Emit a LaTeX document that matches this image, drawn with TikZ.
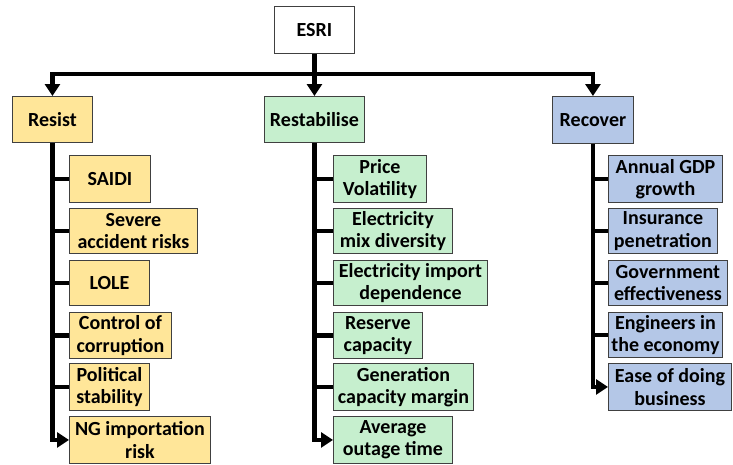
\documentclass[tikz,border=0pt]{standalone}
\usepackage{fontspec}
\setmainfont{Carlito}
\usetikzlibrary{arrows.meta}
\definecolor{yel}{HTML}{FFE699}
\definecolor{grn}{HTML}{C6EFCE}
\definecolor{blu}{HTML}{B4C7E7}
\definecolor{edge}{HTML}{404040}
\begin{document}
\begin{tikzpicture}[x=1pt,y=-1pt,
  box/.style={draw=edge, line width=0.9pt, anchor=north west, align=center, inner sep=0pt,
    font=\fontsize{20}{22.5}\selectfont\bfseries},
  wh/.style 2 args={minimum width=#1pt, minimum height=#2pt},
  conn/.style={line width=4.5pt, line join=miter, draw=black},
  tip/.style={-{Triangle[width=15pt,length=12pt]}}
]
\useasboundingbox (0,0) rectangle (733,464);
% top level
\node[box, fill=white, wh={80}{47}] (esri) at (274,6) {ESRI};
\node[box, fill=yel, wh={80}{46}] (resist) at (12,96) {Resist};
\node[box, fill=grn, wh={100}{46}] (restab) at (264,96) {Restabilise};
\node[box, fill=blu, wh={81}{47}] (recover) at (552,96) {Recover};
% left column
\node[box, fill=yel, wh={81}{47}] (saidi) at (69,155) {SAIDI};
\node[box, fill=yel, wh={128}{45}] (severe) at (69,208) {Severe\\accident risks};
\node[box, fill=yel, wh={80}{45}] (lole) at (69,260) {LOLE};
\node[box, fill=yel, wh={102}{46}] (control) at (69,312) {Control of\\corruption};
\node[box, fill=yel, wh={80}{47}] (polit) at (69,363) {Political\\stability};
\node[box, fill=yel, wh={141}{47}] (ng) at (69,416) {NG importation\\risk};
% middle column
\node[box, fill=grn, wh={93}{47}] (price) at (333,155) {Price\\Volatility};
\node[box, fill=grn, wh={119}{45}] (mix) at (333,208) {Electricity\\mix diversity};
\node[box, fill=grn, wh={154}{45}] (import) at (333,260) {Electricity import\\dependence};
\node[box, fill=grn, wh={89}{46}] (reserve) at (333,312) {Reserve\\capacity};
\node[box, fill=grn, wh={140}{47}] (gen) at (333,363) {Generation\\capacity margin};
\node[box, fill=grn, wh={119}{47}] (avg) at (333,416) {Average\\outage time};
% right column
\node[box, fill=blu, wh={114}{47}] (gdp) at (608,155) {Annual GDP\\growth};
\node[box, fill=blu, wh={109}{45}] (ins) at (608,208) {Insurance\\penetration};
\node[box, fill=blu, wh={119}{45}] (gov) at (608,260) {Government\\effectiveness};
\node[box, fill=blu, wh={114}{45}] (eng) at (608,312) {Engineers in\\the economy};
\node[box, fill=blu, wh={123}{47}] (ease) at (608,363) {Ease of doing\\business};
% top connectors
\coordinate (bar) at (314,74);
\draw[conn, tip] (esri.south) -- (restab.north);
\draw[conn, {Triangle[width=15pt,length=12pt]}-{Triangle[width=15pt,length=12pt]}]
  (resist.north) |- (bar) -| (recover.north);
% left spine
\draw[conn, tip] (resist.south) |- (ng.west);
\foreach \n in {saidi,severe,lole,control,polit}
  \draw[conn] (resist.south |- \n.west) -- (\n.west);
% middle spine
\draw[conn, tip] (restab.south) |- (avg.west);
\foreach \n in {price,mix,import,reserve,gen}
  \draw[conn] (restab.south |- \n.west) -- (\n.west);
% right spine
\draw[conn, tip] (recover.south) |- (ease.west);
\foreach \n in {gdp,ins,gov,eng}
  \draw[conn] (recover.south |- \n.west) -- (\n.west);
\end{tikzpicture}
\end{document}
